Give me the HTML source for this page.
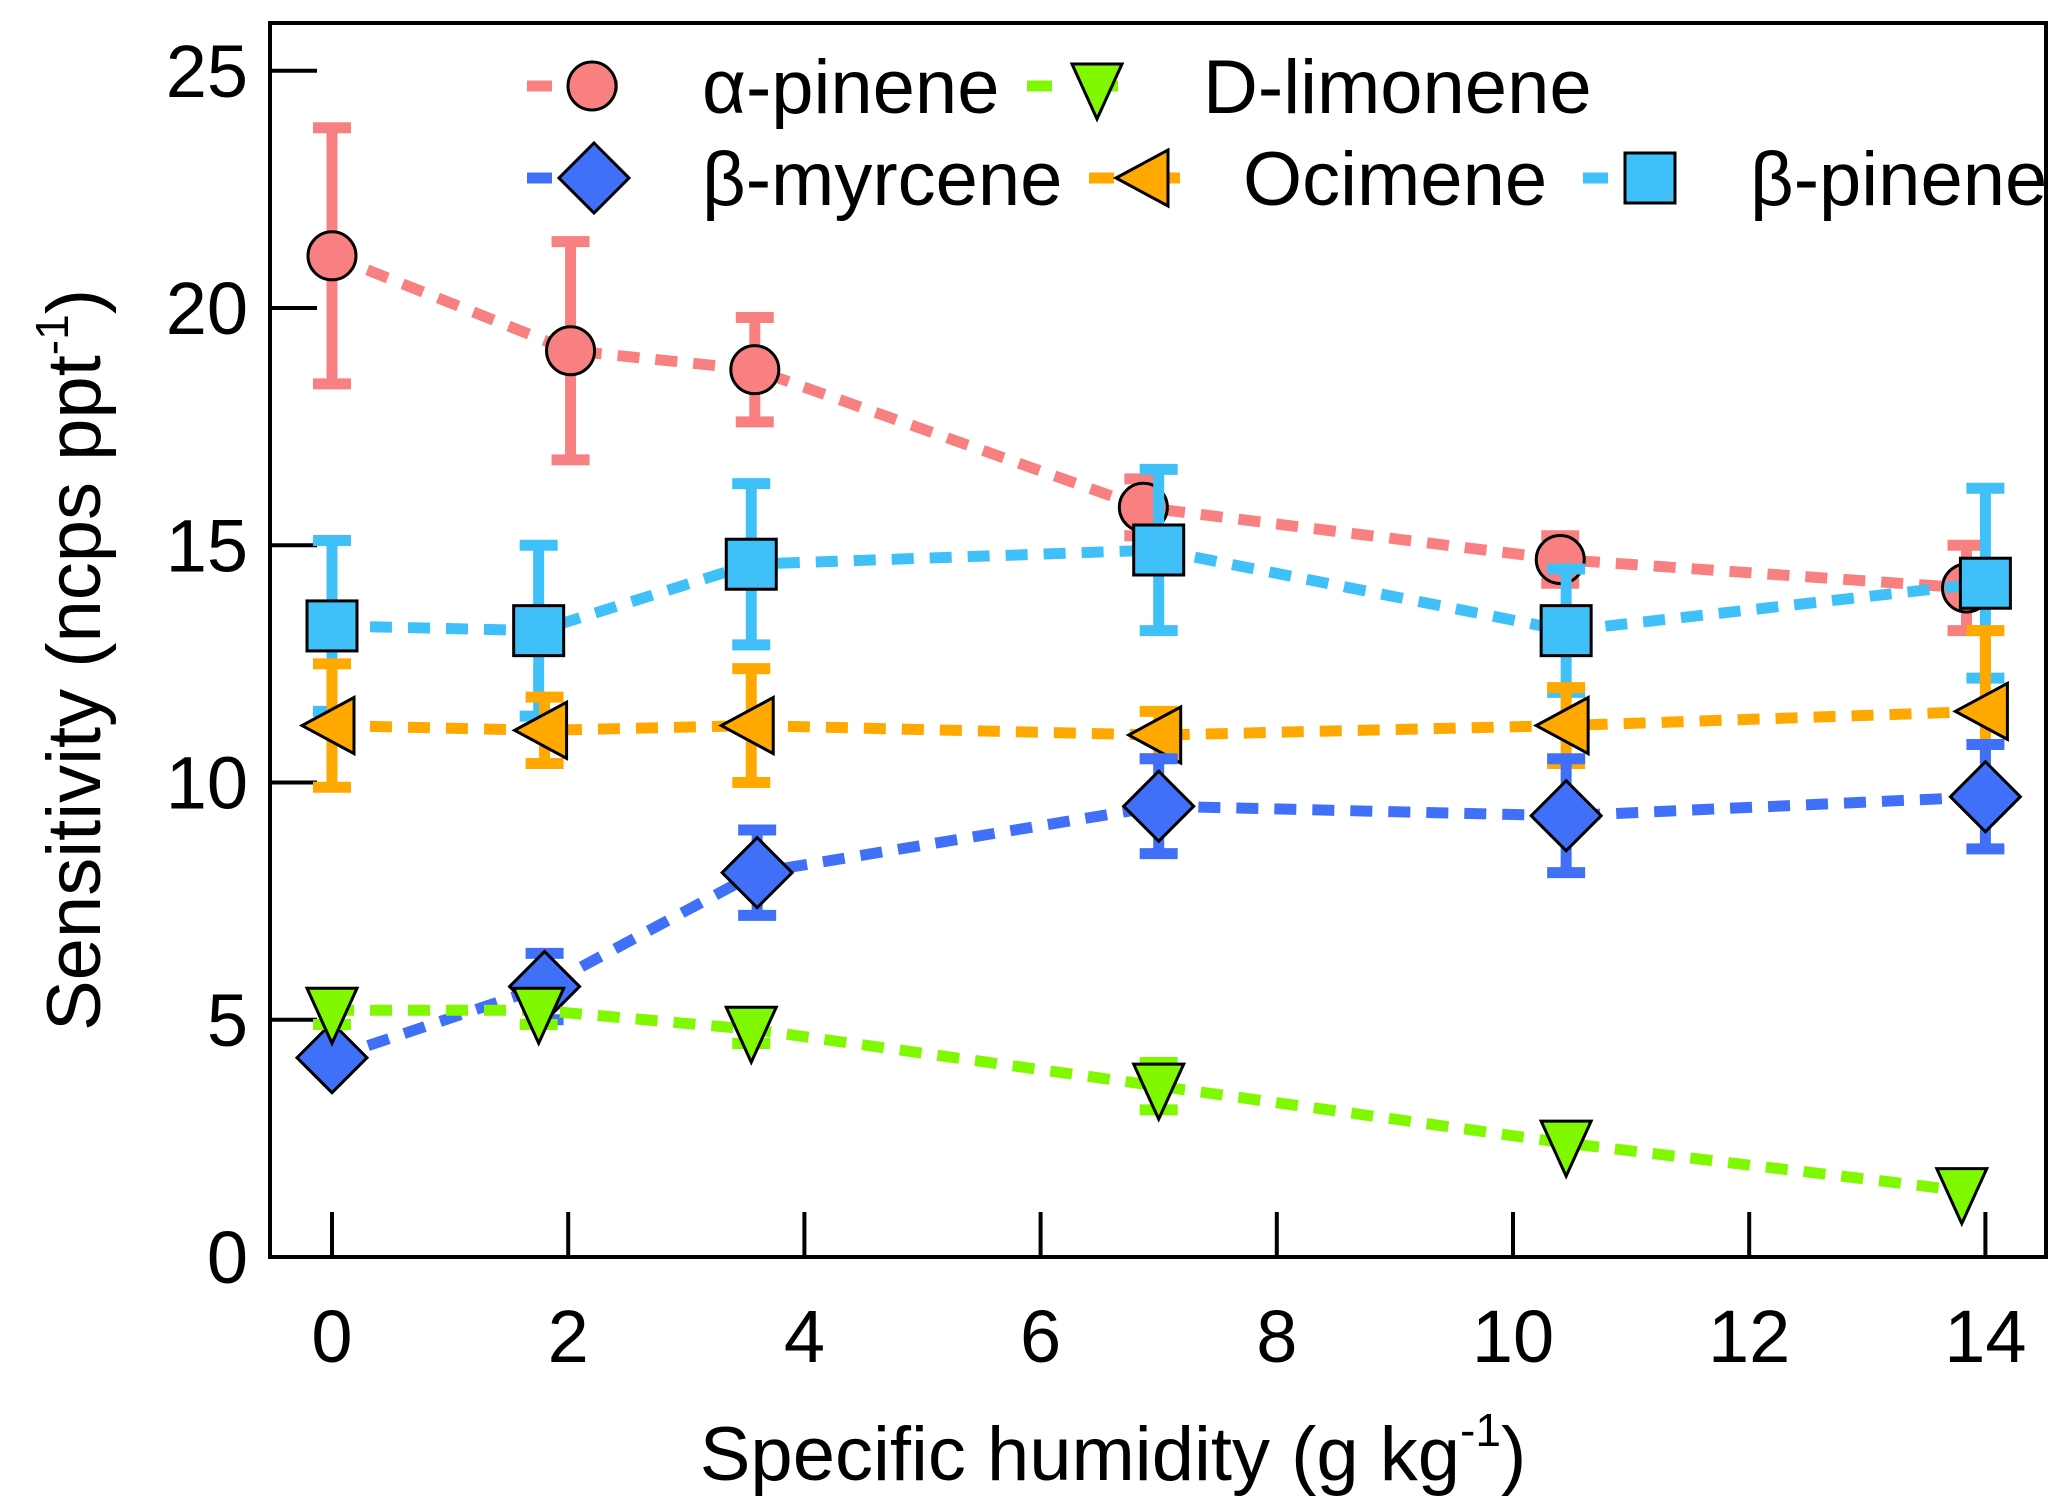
<!DOCTYPE html>
<html><head><meta charset="utf-8"><style>
html,body{margin:0;padding:0;background:#fff;}
svg{display:block;font-family:"Liberation Sans",Arial,sans-serif;}
</style></head><body>
<svg id="chart" width="2067" height="1510" viewBox="0 0 2067 1510" xmlns="http://www.w3.org/2000/svg">
<rect x="270" y="23" width="1776" height="1234" fill="#fff" stroke="#000" stroke-width="4"/>
<g id="axes"></g>
<g id="series"></g>
<g id="legend"></g>
<text transform="translate(100,660) rotate(-90)" text-anchor="middle" font-size="76">Sensitivity (ncps ppt<tspan font-size="46" dy="-32">-1</tspan><tspan dy="32">)</tspan></text>
<text x="1113" y="1480" text-anchor="middle" font-size="76">Specific humidity (g kg<tspan font-size="46" dy="-34">-1</tspan><tspan dy="34">)</tspan></text>
</svg>
<script>
const xTicks = [0,2,4,6,8,10,12,14];
const yTicks = [0,5,10,15,20,25];
const seriesNames = ["α-pinene","D-limonene","β-myrcene","Ocimene","β-pinene"];
const apX = [0,2.02,3.58,6.87,10.4,13.84];
const apY = [21.1,19.1,18.7,15.8,14.7,14.1];
const apE = [2.7,2.3,1.1,0.6,0.5,0.9];
const dlX = [0,1.75,3.55,7,10.45,13.8];
const dlY = [5.2,5.2,4.8,3.6,2.4,1.4];
const dlE = [0.3,0.3,0.3,0.5,0,0];
const bmX = [0,1.8,3.6,7,10.45,14];
const bmY = [4.2,5.7,8.1,9.5,9.3,9.7];
const bmE = [0,0.7,0.9,1.0,1.2,1.1];
const ocX = [0,1.8,3.55,7,10.45,14];
const ocY = [11.2,11.1,11.2,11.0,11.2,11.5];
const ocE = [1.3,0.7,1.2,0.5,0.8,1.7];
const bpX = [0,1.75,3.55,7,10.45,14];
const bpY = [13.3,13.2,14.6,14.9,13.2,14.2];
const bpE = [1.8,1.8,1.7,1.7,1.3,2.0];

const NS="http://www.w3.org/2000/svg";
const sx = v => 332 + 118.1*v;
const sy = v => 1257 - 47.45*v;
function mk(tag, attrs, parent){const e=document.createElementNS(NS,tag);for(const k in attrs)e.setAttribute(k,attrs[k]);parent.appendChild(e);return e;}
const axes=document.getElementById('axes');
xTicks.forEach(t=>{
  const l=mk('line',{x1:sx(t),x2:sx(t),y1:1257,y2:1212,stroke:'#000','stroke-width':4},axes);
  
  
  const tx=mk('text',{x:sx(t),y:1362,'text-anchor':'middle','font-size':74},axes);
  
  
  tx.textContent=t;
});
yTicks.forEach(t=>{
  const l=mk('line',{x1:270,x2:317,y1:sy(t),y2:sy(t),stroke:'#000','stroke-width':4},axes);
  
  
  const tx=mk('text',{x:248,y:sy(t)+26,'text-anchor':'end','font-size':74},axes);
  
  
  tx.textContent=t;
});
function marker(type,cx,cy,fill,parent){
  let e;
  if(type==='circle') e=mk('circle',{cx:cx,cy:cy,r:24},parent);
  else if(type==='square') e=mk('rect',{x:cx-25,y:cy-25,width:50,height:50},parent);
  else if(type==='diamond') e=mk('polygon',{points:`${cx},${cy-35} ${cx+35},${cy} ${cx},${cy+35} ${cx-35},${cy}`},parent);
  else if(type==='tdown') e=mk('polygon',{points:`${cx-25},${cy-22} ${cx+25},${cy-22} ${cx},${cy+33}`},parent);
  else if(type==='tleft') e=mk('polygon',{points:`${cx-30},${cy} ${cx+22},${cy-28} ${cx+22},${cy+28}`},parent);
  e.setAttribute('fill',fill);e.setAttribute('stroke','#000');e.setAttribute('stroke-width',3);
  return e;
}
const defs=[
 {name:'alpha-pinene',X:apX,Y:apY,E:apE,c:'#F88080',m:'circle'},
 {name:'beta-pinene',X:bpX,Y:bpY,E:bpE,c:'#40C0F8',m:'square'},
 {name:'ocimene',X:ocX,Y:ocY,E:ocE,c:'#FFA800',m:'tleft'},
 {name:'beta-myrcene',X:bmX,Y:bmY,E:bmE,c:'#4070F8',m:'diamond'},
 {name:'d-limonene',X:dlX,Y:dlY,E:dlE,c:'#80F800',m:'tdown'}
];
const sg=document.getElementById('series');
defs.forEach(d=>{
  const g=mk('g',{},sg);
  
  
  const pts=d.X.map((x,i)=>sx(x)+','+sy(d.Y[i])).join(' ');
  const pl=mk('polyline',{points:pts,fill:'none',stroke:d.c,'stroke-width':11,'stroke-dasharray':'22 16'},g);
  
  
  d.X.forEach((x,i)=>{
    if(d.E[i]>0){
      const cx=sx(x),y1=sy(d.Y[i]+d.E[i]),y2=sy(d.Y[i]-d.E[i]);
      const eb=mk('path',{d:`M${cx},${y1}V${y2}M${cx-19},${y1}H${cx+19}M${cx-19},${y2}H${cx+19}`,stroke:d.c,'stroke-width':11,fill:'none'},g);
      
      
    }
  });
  d.X.forEach((x,i)=>{
    const m=marker(d.m,sx(x),sy(d.Y[i]),d.c,g);
    
    
  });
});
const lg=document.getElementById('legend');
const legendItems=[
 {i:0,c:'#F88080',m:'circle',x0:527,x1:643,mx:592,tx:702,y:86},
 {i:1,c:'#80F800',m:'tdown',x0:1027,x1:1153,mx:1097,tx:1203,y:86},
 {i:2,c:'#4070F8',m:'diamond',x0:527,x1:643,mx:594,tx:702,y:178},
 {i:3,c:'#FFA800',m:'tleft',x0:1089,x1:1206,mx:1146,tx:1243,y:178},
 {i:4,c:'#40C0F8',m:'square',x0:1583,x1:1709,mx:1650,tx:1750,y:178}
];
legendItems.forEach(it=>{
  const g=mk('g',{},lg);
  
  
  mk('line',{x1:it.x0,x2:it.x1,y1:it.y,y2:it.y,stroke:it.c,'stroke-width':11,'stroke-dasharray':'25 41'},g);
  marker(it.m,it.mx,it.y,it.c,g);
  const t=mk('text',{x:it.tx,y:it.y+27,'font-size':76},g);
  t.textContent=seriesNames[it.i];
});
</script>
</body></html>
